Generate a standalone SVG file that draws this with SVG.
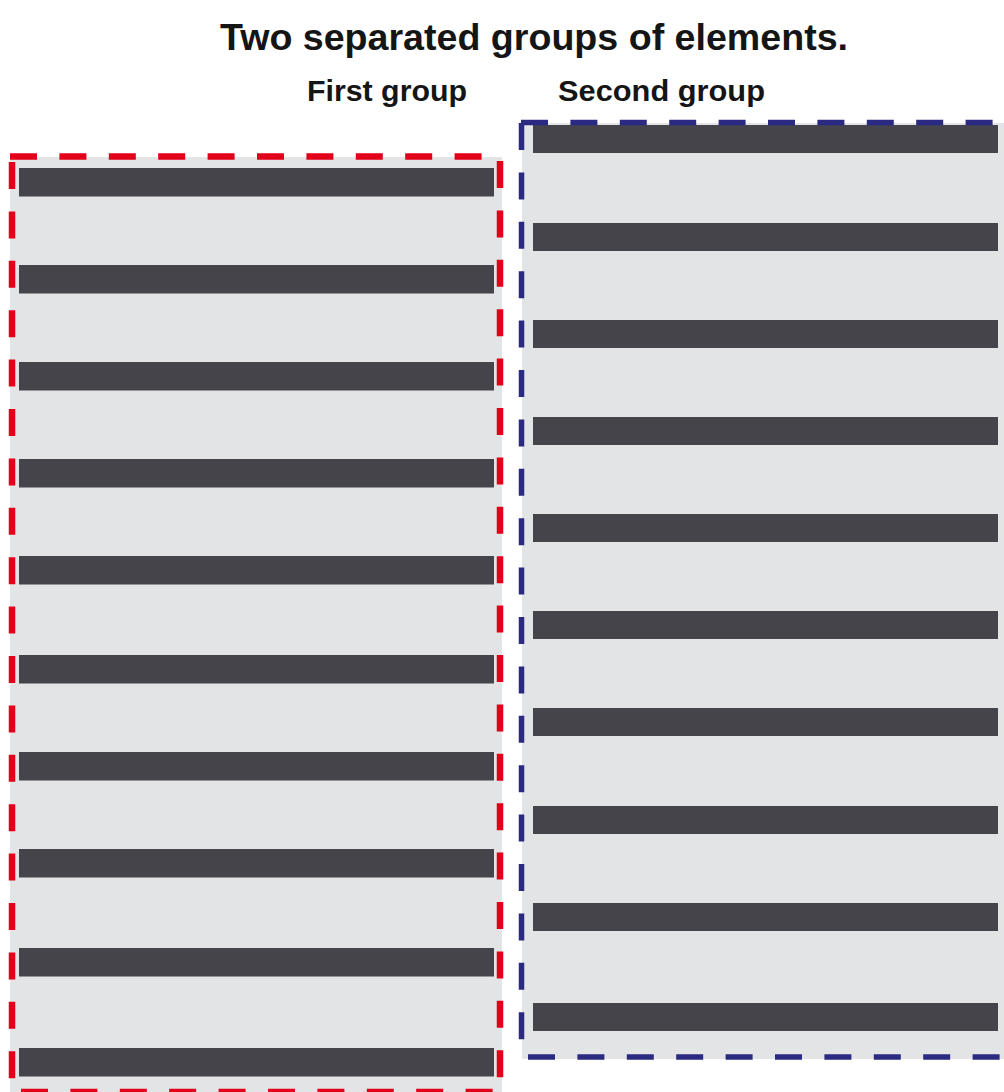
<svg xmlns="http://www.w3.org/2000/svg" width="1004" height="1092" viewBox="0 0 1004 1092">
<style>
.bg{fill:#e3e4e6}
.bar{fill:#45444b}
.red{stroke:#e2001a;stroke-width:6.5;stroke-dasharray:27 22.4;fill:none}
.blue{stroke:#2b2a82;stroke-width:5.5;stroke-dasharray:27 22.4;fill:none}
.t{font-family:"Liberation Sans",Arial,sans-serif;font-weight:bold;fill:#151515;text-anchor:middle}
</style>
<rect width="1004" height="1092" fill="#fff"/>
<text class="t" x="534" y="50" font-size="36" textLength="628" lengthAdjust="spacingAndGlyphs">Two separated groups of elements.</text>
<text class="t" x="387" y="101" font-size="29" textLength="160" lengthAdjust="spacingAndGlyphs">First group</text>
<text class="t" x="661.5" y="101" font-size="29" textLength="207" lengthAdjust="spacingAndGlyphs">Second group</text>
<g id="first-group">
<rect class="bg" x="10" y="157" width="492" height="940"/>
<g id="first-bars">
<rect class="bar" x="19" y="168" width="475" height="28.5"/>
<rect class="bar" x="19" y="265" width="475" height="28.5"/>
<rect class="bar" x="19" y="362" width="475" height="28.5"/>
<rect class="bar" x="19" y="459" width="475" height="28.5"/>
<rect class="bar" x="19" y="556" width="475" height="28.5"/>
<rect class="bar" x="19" y="655" width="475" height="28.5"/>
<rect class="bar" x="19" y="752" width="475" height="28.5"/>
<rect class="bar" x="19" y="849" width="475" height="28.5"/>
<rect class="bar" x="19" y="948" width="475" height="28.5"/>
<rect class="bar" x="19" y="1048" width="475" height="28.5"/>
</g>
<g id="first-border">
<line class="red" x1="10" y1="156.5" x2="500" y2="156.5"/>
<line class="red" x1="12" y1="162" x2="12" y2="1095"/>
<line class="red" x1="500" y1="161" x2="500" y2="1095"/>
<line class="red" x1="21" y1="1092" x2="500" y2="1092"/>
</g>
</g>
<g id="second-group">
<rect class="bg" x="522" y="123" width="490" height="936"/>
<g id="second-bars">
<rect class="bar" x="533" y="125" width="465" height="28"/>
<rect class="bar" x="533" y="223" width="465" height="28"/>
<rect class="bar" x="533" y="320" width="465" height="28"/>
<rect class="bar" x="533" y="417" width="465" height="28"/>
<rect class="bar" x="533" y="514" width="465" height="28"/>
<rect class="bar" x="533" y="611" width="465" height="28"/>
<rect class="bar" x="533" y="708" width="465" height="28"/>
<rect class="bar" x="533" y="806" width="465" height="28"/>
<rect class="bar" x="533" y="903" width="465" height="28"/>
<rect class="bar" x="533" y="1003" width="465" height="28"/>
</g>
<g id="second-border">
<line class="blue" x1="521" y1="122.5" x2="1010" y2="122.5"/>
<line class="blue" x1="521.5" y1="123" x2="521.5" y2="1057"/>
<line class="blue" x1="528" y1="1057" x2="1010" y2="1057"/>
</g>
</g>
</svg>
